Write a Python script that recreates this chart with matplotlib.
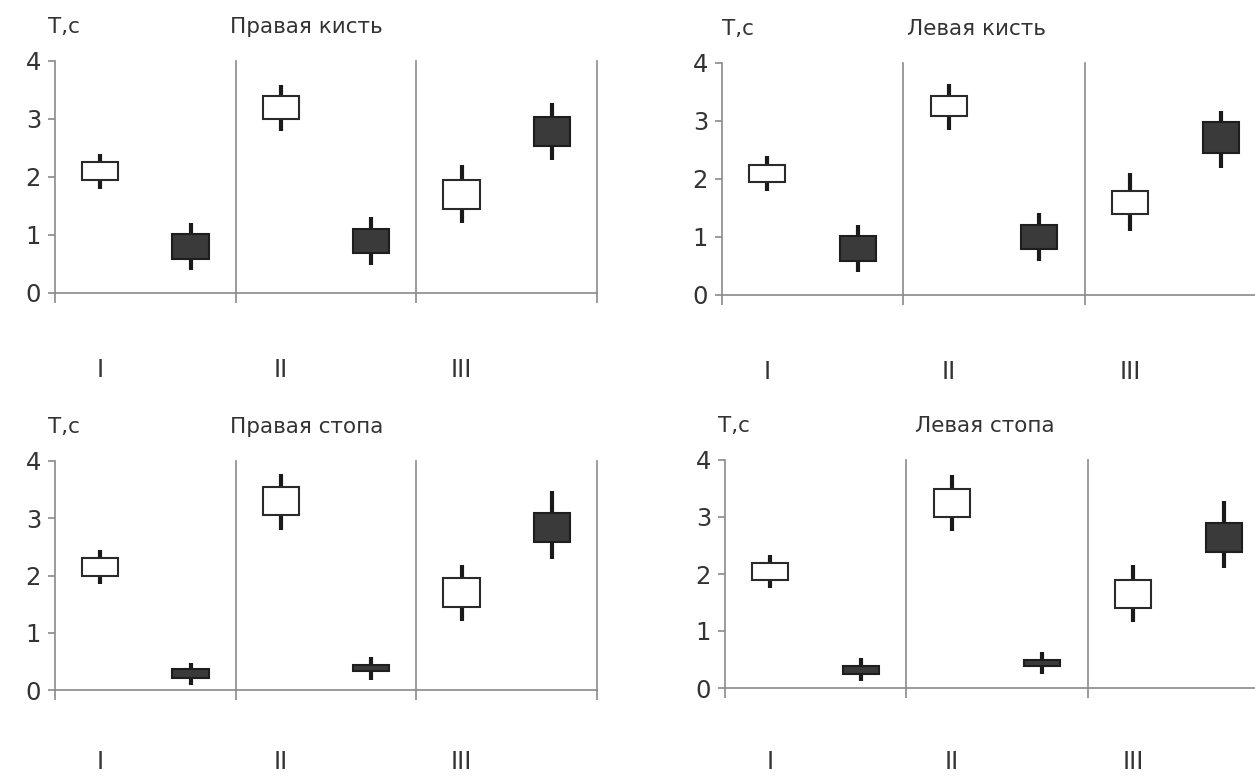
import matplotlib
matplotlib.use("Agg")
import matplotlib.pyplot as plt

plt.rcParams['font.family'] = ['DejaVu Sans']

categories = ["I", "II", "III"]
titles = ["Правая кисть", "Левая кисть", "Правая стопа", "Левая стопа"]
ylabel = "T,c"

# white (light) candles: box low, box high, whisker low, whisker high
white_box_low = [[1.95, 3.0, 1.45], [1.95, 3.08, 1.40], [2.0, 3.05, 1.45], [1.90, 3.0, 1.40]]
white_box_high = [[2.25, 3.4, 1.95], [2.24, 3.43, 1.80], [2.3, 3.54, 1.95], [2.20, 3.49, 1.90]]
white_wh_low = [[1.80, 2.8, 1.21], [1.80, 2.84, 1.11], [1.85, 2.8, 1.20], [1.76, 2.76, 1.15]]
white_wh_high = [[2.40, 3.58, 2.21], [2.39, 3.63, 2.10], [2.44, 3.78, 2.18], [2.34, 3.73, 2.15]]

# dark candles
dark_box_low = [[0.59, 0.69, 2.54], [0.59, 0.79, 2.44], [0.21, 0.33, 2.59], [0.24, 0.38, 2.39]]
dark_box_high = [[1.01, 1.11, 3.04], [1.01, 1.21, 2.98], [0.36, 0.44, 3.09], [0.39, 0.49, 2.89]]
dark_wh_low = [[0.40, 0.49, 2.29], [0.39, 0.59, 2.19], [0.09, 0.18, 2.29], [0.12, 0.24, 2.10]]
dark_wh_high = [[1.21, 1.31, 3.28], [1.21, 1.41, 3.18], [0.48, 0.57, 3.48], [0.52, 0.64, 3.28]]

W, H = 1255, 776
fig = plt.figure(figsize=(W / 100, H / 100), dpi=100)

# panel layout in pixels: left, right, y0 (value 0), y4 (value 4)
panels = [
    (55, 597, 293, 61),
    (722, 1266, 295, 63),
    (55, 597, 690, 461),
    (725, 1269, 688, 460),
]
title_x = [(48, 230), (722, 907), (48, 230), (718, 915)]
label_base = [377, 379, 769, 769]

axis_col = "#8a8a8a"
text_col = "#333333"
dark_fill = "#3a3a3a"
wh_col = "#1a1a1a"
bw = 0.4

for p in range(4):
    l, r, y0, y4 = panels[p]
    ax = fig.add_axes([l / W, 1 - y0 / H, (r - l) / W, (y0 - y4) / H])
    ax.set_xlim(0, 6)
    ax.set_ylim(0, 4)
    for s in ["top", "right"]:
        ax.spines[s].set_visible(False)
    for s in ["left", "bottom"]:
        ax.spines[s].set_color(axis_col)
        ax.spines[s].set_linewidth(1.2)
    ax.set_xticks([0, 2, 4, 6])
    ax.set_xticklabels([])
    ax.tick_params(axis="x", length=7, color=axis_col, width=1.2)
    ax.set_yticks([0, 1, 2, 3, 4])
    ax.tick_params(axis="y", length=5, color=axis_col, width=1.2,
                   labelsize=17.5, labelcolor=text_col, pad=5)
    for xv in [2, 4, 6]:
        ax.axvline(xv, color=axis_col, lw=1.2, zorder=1, clip_on=False)

    xs_w = [0.5, 2.5, 4.5]
    xs_d = [1.5, 3.5, 5.5]
    for i in range(3):
        ax.vlines(xs_w[i], white_wh_low[p][i], white_wh_high[p][i], color=wh_col, lw=3, zorder=2)
        ax.bar(xs_w[i], white_box_high[p][i] - white_box_low[p][i], bottom=white_box_low[p][i],
               width=bw, color="white", edgecolor="#2a2a2a", linewidth=1.5, zorder=3)
        ax.vlines(xs_d[i], dark_wh_low[p][i], dark_wh_high[p][i], color=wh_col, lw=3, zorder=2)
        ax.bar(xs_d[i], dark_box_high[p][i] - dark_box_low[p][i], bottom=dark_box_low[p][i],
               width=bw, color=dark_fill, edgecolor="#1e1e1e", linewidth=1.5, zorder=3)

    for i, c in enumerate(categories):
        xpix = l + (r - l) * xs_w[i] / 6
        fig.text(xpix / W, 1 - label_base[p] / H, c, ha="center", va="baseline",
                 fontsize=17, color=text_col)

    tx, ttx = title_x[p]
    ty = y4 - 28
    fig.text(tx / W, 1 - ty / H, ylabel, ha="left", va="baseline", fontsize=15.5, color=text_col)
    fig.text(ttx / W, 1 - ty / H, titles[p], ha="left", va="baseline", fontsize=15.5, color=text_col)

fig.savefig("out.png", dpi=100)
